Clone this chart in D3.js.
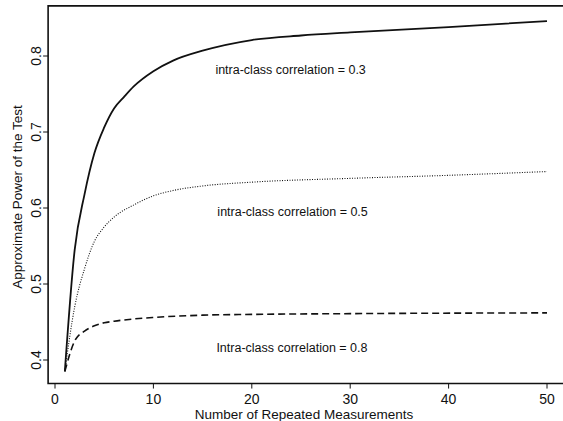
<!DOCTYPE html>
<html>
<head>
<meta charset="utf-8">
<script src="https://cdn.jsdelivr.net/npm/d3@7"></script>
<style>
  body { margin: 0; background: #fff; }
  text { font-family: "Liberation Sans", Arial, sans-serif; fill: #111; }
</style>
</head>
<body>
<svg id="chart" width="563" height="421"></svg>
<script>
// values
const nRho03 = [1, 2, 3, 4, 5, 6, 7, 8, 10, 12, 15, 20, 25, 30, 40, 50]
const powerRho03 = [0.385, 0.545, 0.618, 0.672, 0.706, 0.731, 0.746, 0.760, 0.780, 0.794, 0.807, 0.821, 0.827, 0.831, 0.838, 0.846]

const nRho05 = [1, 2, 3, 4, 5, 6, 8, 10, 12, 15, 20, 30, 40, 50]
const powerRho05 = [0.385, 0.470, 0.520, 0.556, 0.575, 0.588, 0.604, 0.616, 0.623, 0.629, 0.634, 0.639, 0.643, 0.648]

const nRho08 = [1, 2, 3, 4, 5, 6, 8, 10, 15, 20, 30, 50]
const powerRho08 = [0.385, 0.425, 0.438, 0.445, 0.449, 0.451, 0.454, 0.456, 0.459, 0.460, 0.461, 0.462]

const xTicks = [0, 10, 20, 30, 40, 50]
const yTicks = [0.4, 0.5, 0.6, 0.7, 0.8]

const labels = ['intra-class correlation = 0.3', 'intra-class correlation = 0.5', 'Intra-class correlation = 0.8']
const labelPos = [[16.3, 0.776], [16.5, 0.589], [16.4, 0.4105]]

const svg = d3.select('#chart')

const x = d3.scaleLinear().domain([0, 50]).range([55, 547])
const y = d3.scaleLinear().domain([0.4, 0.8]).range([360, 56])

const frameL = x(-0.7), frameR = x(53), frameT = y(0.866), frameB = y(0.369)

svg.append('path')
    .attr('d', `M${frameR},${frameT}H${frameL}V${frameB}H${frameR}`)
    .attr('fill', 'none')
    .attr('stroke', '#111')
    .attr('stroke-width', 1.6)

// x axis
const gx = svg.append('g')
gx.selectAll('line').data(xTicks).join('line')
    .attr('x1', d => x(d)).attr('x2', d => x(d))
    .attr('y1', frameB).attr('y2', frameB + 5)
    .attr('stroke', '#111')
gx.selectAll('text').data(xTicks).join('text')
    .attr('x', d => x(d)).attr('y', frameB + 20)
    .attr('text-anchor', 'middle')
    .attr('font-size', 14)
    .text(d => d)

// y axis
const gy = svg.append('g')
gy.selectAll('line').data(yTicks).join('line')
    .attr('x1', frameL - 5).attr('x2', frameL)
    .attr('y1', d => y(d)).attr('y2', d => y(d))
    .attr('stroke', '#111')
gy.selectAll('text').data(yTicks).join('text')
    .attr('transform', d => `translate(${frameL - 7},${y(d)}) rotate(-90)`)
    .attr('text-anchor', 'middle')
    .attr('font-size', 14)
    .text(d => d.toFixed(1))

svg.append('text')
    .attr('x', 304).attr('y', 419)
    .attr('text-anchor', 'middle')
    .attr('font-size', 13.5)
    .text('Number of Repeated Measurements')

svg.append('text')
    .attr('transform', `translate(22,197) rotate(-90)`)
    .attr('text-anchor', 'middle')
    .attr('font-size', 13.5)
    .text('Approximate Power of the Test')

const line = d3.line().curve(d3.curveMonotoneX).x(d => x(d[0])).y(d => y(d[1]))

const series = [
    { n: nRho03, p: powerRho03, dash: null, width: 1.8 },
    { n: nRho05, p: powerRho05, dash: '1,1.5', width: 1.1 },
    { n: nRho08, p: powerRho08, dash: '7,4', width: 1.6 }
]

series.forEach(s => {
    svg.append('path')
        .datum(s.n.map((v, i) => [v, s.p[i]]))
        .attr('d', line)
        .attr('fill', 'none')
        .attr('stroke', '#111')
        .attr('stroke-width', s.width)
        .attr('stroke-dasharray', s.dash)
})

svg.selectAll('.lab').data(labels).join('text')
    .attr('class', 'lab')
    .attr('x', (d, i) => x(labelPos[i][0]))
    .attr('y', (d, i) => y(labelPos[i][1]))
    .attr('font-size', 12.5)
    .text(d => d)
</script>
</body>
</html>
